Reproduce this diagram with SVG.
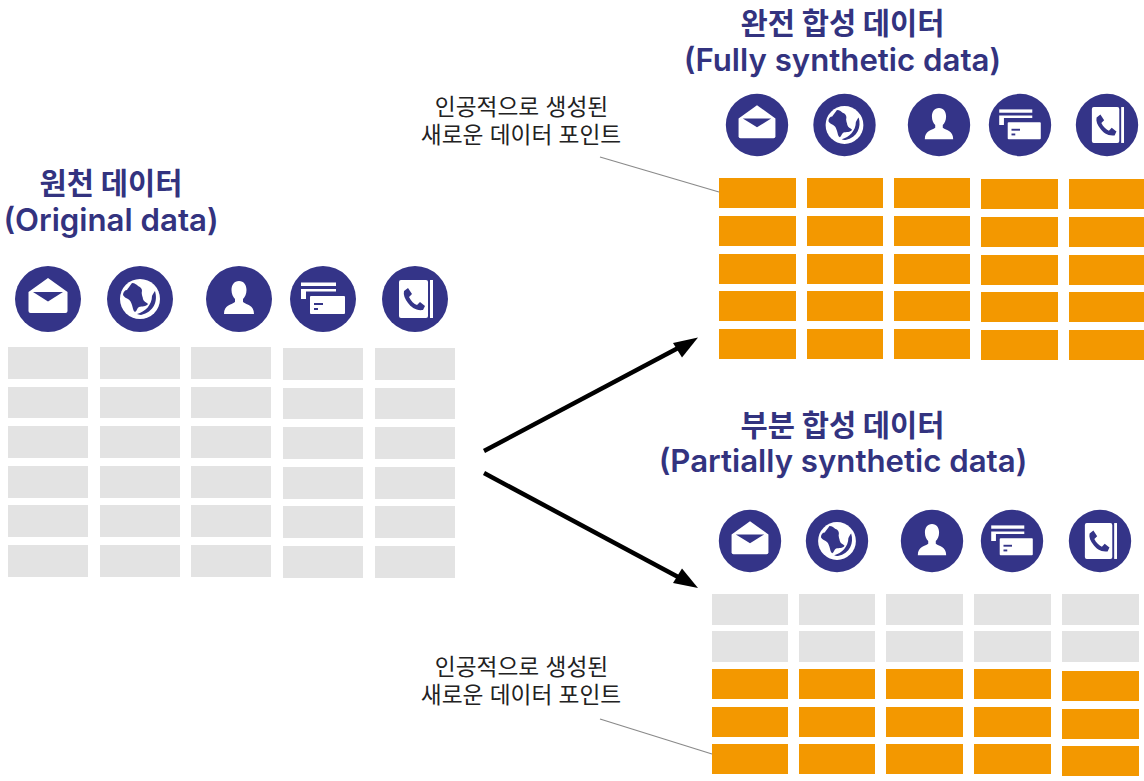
<svg xmlns="http://www.w3.org/2000/svg" width="1144" height="781" viewBox="0 0 1144 781">
<style>
.t{font-family:"Noto Sans CJK KR",sans-serif;font-weight:700;font-size:29.6px;fill:#33337f;text-anchor:middle}
.e{font-family:Inter,"Noto Sans",sans-serif;font-weight:600;font-size:31.200px;fill:#33337f;text-anchor:middle}
.l{font-family:"Liberation Sans","Noto Sans CJK KR",sans-serif;font-weight:400;font-size:22.7px;fill:#222;text-anchor:middle}
.g{fill:#e3e3e3}.o{fill:#f39800}
.n{fill:#343488}.w{fill:#fff}
.lead{stroke:#8a8a8a;stroke-width:1.3;fill:none}
.ar{stroke:#000;stroke-width:4.5;fill:none}
</style>
<defs>
<circle id="c" r="33" class="n"/>
<g id="mail"><use href="#c"/><path class="w" d="M0-21L19.500-7V12Q19.500 14 17.500 14H-17.500Q-19.500 14-19.500 12V-7Z"/><path class="n" d="M-15-7H15L0 2.500Z"/></g>
<g id="globe"><use href="#c"/><circle r="20" class="w"/><path class="n" d="M-8-16C-5-16-3-14-2-13C1-12 2-10 2-8C1-5 3-2 3 0C4 3 6 3 8 5C6 8 2 7-1 8C-3 9-3 12-5 13C-7 12-7 9-8 6C-9 3-10 1-12 0C-14-1-16-2-17-4C-17-7-15-9-13-9C-12-11-10-13-8-16Z"/><path class="n" d="M15-8C18 2 14 13 1 16C-1 16-2 15-3 15C5 13 12 6 12-3C13-5 14-7 15-8Z"/></g>
<g id="user"><use href="#c"/><path class="w" d="M0-18C5-18 7.500-14 7.500-9C7.500-5 6-2 4 0V3C8 6 15 6 15 15H-15C-15 6-8 6-4 3V0C-6-2-7.500-5-7.500-9C-7.500-14-5-18 0-18Z"/></g>
<g id="cards"><use href="#c"/><rect class="w" x="-22" y="-16.500" width="35" height="3.500"/><path class="w" d="M-22-10H13V-7.500H-17V0H-22Z"/><rect class="w" x="-13" y="-3" width="35" height="18" rx="1"/><rect class="n" x="-9" y="4" width="9" height="2"/><rect class="n" x="-9" y="9" width="4" height="2"/></g>
<g id="phone"><use href="#c"/><rect class="w" x="-16" y="-19" width="29" height="38" rx="2"/><rect class="w" x="15" y="-19" width="3" height="38"/><path class="n" d="M-11-8L-7-11L-3-5L-6-2C-4 2-1 5 2 6L5 3L10 7L8 11C1 12-4 8-7 4C-10 0-12-4-11-8Z"/></g>
</defs>

<g id="title-original"><text class="t" x="111" y="194">원천 데이터</text><text class="e" x="111" y="231">(Original data)</text></g>
<g id="title-full"><text class="t" x="842.500" y="34">완전 합성 데이터</text><text class="e" x="842.500" y="71">(Fully synthetic data)</text></g>
<g id="title-partial"><text class="t" x="842.500" y="436">부분 합성 데이터</text><text class="e" x="843" y="472">(Partially synthetic data)</text></g>

<g id="label-full"><text class="l" x="521.500" y="115">인공적으로 생성된</text><text class="l" x="521" y="143">새로운 데이터 포인트</text></g>
<g id="label-partial"><text class="l" x="521.500" y="675">인공적으로 생성된</text><text class="l" x="521" y="703">새로운 데이터 포인트</text></g>

<g id="icons-original">
<use href="#mail" transform="translate(48 299)"/><use href="#globe" transform="translate(140 299)"/><use href="#user" transform="translate(239 299)"/><use href="#cards" transform="translate(323 299)"/><use href="#phone" transform="translate(415 299)"/>
</g>
<g id="icons-full">
<use href="#mail" transform="translate(757 125) scale(.945)"/><use href="#globe" transform="translate(844.500 125) scale(.945)"/><use href="#user" transform="translate(939 125) scale(.945)"/><use href="#cards" transform="translate(1020 125) scale(.945)"/><use href="#phone" transform="translate(1107 125) scale(.945)"/>
</g>
<g id="icons-partial">
<use href="#mail" transform="translate(750 541) scale(.945)"/><use href="#globe" transform="translate(837 541) scale(.945)"/><use href="#user" transform="translate(932 541) scale(.945)"/><use href="#cards" transform="translate(1012 541) scale(.945)"/><use href="#phone" transform="translate(1100 541) scale(.945)"/>
</g>

<g id="table-original" class="g">
<rect x="8" y="347" width="80" height="32"/><rect x="100" y="347" width="80" height="32"/><rect x="191" y="347" width="80" height="32"/><rect x="283" y="348" width="80" height="32"/><rect x="375" y="348" width="80" height="32"/>
<rect x="8" y="387" width="80" height="31"/><rect x="100" y="387" width="80" height="31"/><rect x="191" y="387" width="80" height="31"/><rect x="283" y="388" width="80" height="31"/><rect x="375" y="388" width="80" height="31"/>
<rect x="8" y="426" width="80" height="32"/><rect x="100" y="426" width="80" height="32"/><rect x="191" y="426" width="80" height="32"/><rect x="283" y="427" width="80" height="32"/><rect x="375" y="427" width="80" height="32"/>
<rect x="8" y="466" width="80" height="32"/><rect x="100" y="466" width="80" height="32"/><rect x="191" y="466" width="80" height="32"/><rect x="283" y="467" width="80" height="32"/><rect x="375" y="467" width="80" height="32"/>
<rect x="8" y="505" width="80" height="32"/><rect x="100" y="505" width="80" height="32"/><rect x="191" y="505" width="80" height="32"/><rect x="283" y="506" width="80" height="32"/><rect x="375" y="506" width="80" height="32"/>
<rect x="8" y="545" width="80" height="32"/><rect x="100" y="545" width="80" height="32"/><rect x="191" y="545" width="80" height="32"/><rect x="283" y="546" width="80" height="32"/><rect x="375" y="546" width="80" height="32"/>
</g>

<g id="table-full" class="o">
<rect x="719" y="178" width="77" height="30"/><rect x="807" y="178" width="76" height="30"/><rect x="894" y="178" width="76" height="30"/><rect x="981" y="179" width="77" height="30"/><rect x="1069" y="179" width="75" height="30"/>
<rect x="719" y="216" width="77" height="30"/><rect x="807" y="216" width="76" height="30"/><rect x="894" y="216" width="76" height="30"/><rect x="981" y="217" width="77" height="30"/><rect x="1069" y="217" width="75" height="30"/>
<rect x="719" y="254" width="77" height="30"/><rect x="807" y="254" width="76" height="30"/><rect x="894" y="254" width="76" height="30"/><rect x="981" y="255" width="77" height="30"/><rect x="1069" y="255" width="75" height="30"/>
<rect x="719" y="291" width="77" height="30"/><rect x="807" y="291" width="76" height="30"/><rect x="894" y="291" width="76" height="30"/><rect x="981" y="292" width="77" height="30"/><rect x="1069" y="292" width="75" height="30"/>
<rect x="719" y="329" width="77" height="30"/><rect x="807" y="329" width="76" height="30"/><rect x="894" y="329" width="76" height="30"/><rect x="981" y="330" width="77" height="30"/><rect x="1069" y="330" width="75" height="30"/>
</g>

<g id="table-partial">
<g class="g">
<rect x="712" y="594" width="76" height="31"/><rect x="799" y="594" width="76" height="31"/><rect x="886" y="594" width="77" height="31"/><rect x="974" y="594" width="77" height="31"/><rect x="1062" y="594" width="77" height="31"/>
<rect x="712" y="631" width="76" height="31"/><rect x="799" y="631" width="76" height="31"/><rect x="886" y="631" width="77" height="31"/><rect x="974" y="631" width="77" height="31"/><rect x="1062" y="631" width="77" height="31"/>
</g>
<g class="o">
<rect x="712" y="669" width="76" height="30"/><rect x="799" y="669" width="76" height="30"/><rect x="886" y="669" width="77" height="30"/><rect x="974" y="669" width="77" height="30"/><rect x="1062" y="671" width="77" height="30"/>
<rect x="712" y="707" width="76" height="30"/><rect x="799" y="707" width="76" height="30"/><rect x="886" y="707" width="77" height="30"/><rect x="974" y="707" width="77" height="30"/><rect x="1062" y="709" width="77" height="30"/>
<rect x="712" y="744" width="76" height="30"/><rect x="799" y="744" width="76" height="30"/><rect x="886" y="744" width="77" height="30"/><rect x="974" y="744" width="77" height="30"/><rect x="1062" y="746" width="77" height="30"/>
</g>
</g>

<g id="connectors">
<path class="lead" d="M600 157L719 192"/>
<path class="lead" d="M600 719L712 754"/>
<path class="ar" d="M484 451L680 347"/>
<path d="M698 337.500L673 343L682 357.500Z" fill="#000"/>
<path class="ar" d="M484 473L680 578"/>
<path d="M698 588L682 568.500L673 583Z" fill="#000"/>
</g>
</svg>
